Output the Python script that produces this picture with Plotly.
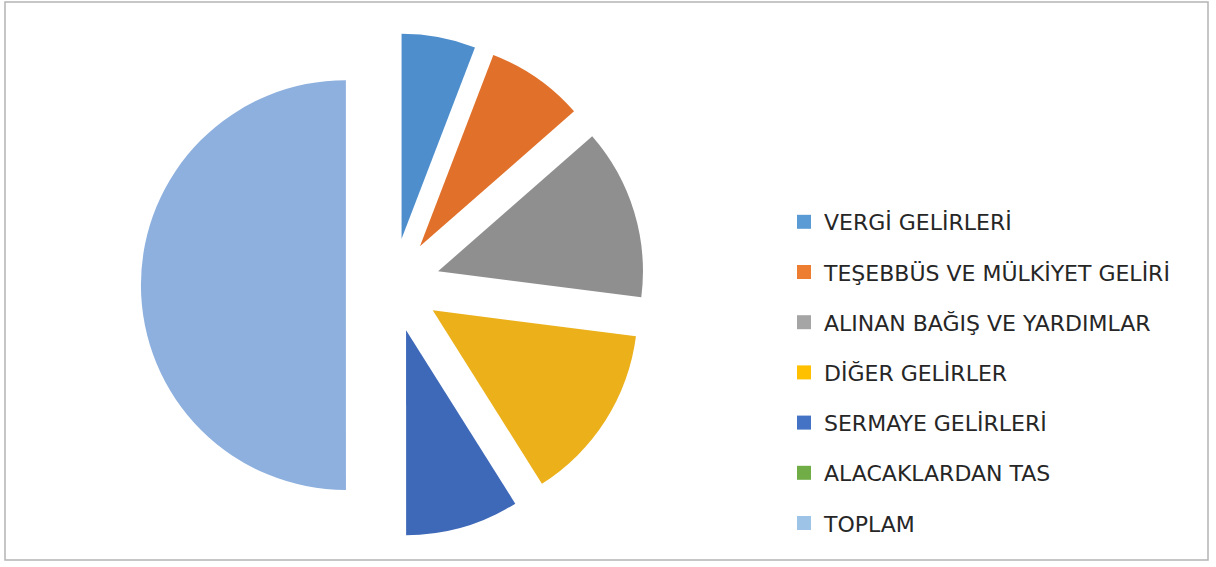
import plotly.graph_objects as go

labels = ["VERGİ GELİRLERİ", "TEŞEBBÜS VE MÜLKİYET GELİRİ", "ALINAN BAĞIŞ VE YARDIMLAR",
          "DİĞER GELİRLER", "SERMAYE GELİRLERİ", "ALACAKLARDAN TAS", "TOPLAM"]
values = [5.83, 7.72, 13.47, 14.03, 8.94, 0.0, 50.0]
colors = ["#4E8ECD", "#E0702A", "#8F8F8F", "#EBB01A", "#3E68B8", "#6AA341", "#8EB0DE"]
legend_colors = ["#5B9BD5", "#ED7D31", "#A5A5A5", "#FFC000", "#4472C4", "#70AD47", "#9DC3E6"]

W, H = 1216, 567
cx, cy, R = 393, 285, 252  # pixel centre and outer radius incl. pull

fig = go.Figure()
fig.add_trace(go.Pie(
    labels=labels, values=values, sort=False, direction="clockwise", rotation=0,
    marker=dict(colors=colors, line=dict(width=0)),
    pull=0.23, textinfo="none", showlegend=False, hoverinfo="label+value",
    domain=dict(x=[(cx - R) / W, (cx + R) / W], y=[(H - cy - R) / H, (H - cy + R) / H]),
))

for i, (lab, col) in enumerate(zip(labels, legend_colors)):
    fig.add_trace(go.Scatter(
        x=[None], y=[None], mode="markers", name=lab, legendgroup=f"g{i}",
        marker=dict(symbol="square", size=14, color=col), hoverinfo="skip",
    ))

fig.update_layout(
    width=W, height=H, margin=dict(l=0, r=0, t=0, b=0),
    paper_bgcolor="white", plot_bgcolor="white",
    xaxis=dict(visible=False), yaxis=dict(visible=False),
    font=dict(family="DejaVu Sans, Open Sans, sans-serif", color="#262626"),
    legend=dict(x=784 / W, xanchor="left", y=1 - 201 / H, yanchor="top",
                font=dict(size=22, color="#262626"), traceorder="grouped",
                tracegroupgap=18.6, itemsizing="trace", bgcolor="rgba(0,0,0,0)"),
    shapes=[dict(type="rect", xref="paper", yref="paper",
                 x0=5 / W, x1=1208 / W, y0=1 - 560 / H, y1=1 - 2 / H,
                 line=dict(color="#B4B4B4", width=1.5))],
)

fig.write_html("out.html", config={"displayModeBar": False},
               post_script="document.body.style.margin='0';")
